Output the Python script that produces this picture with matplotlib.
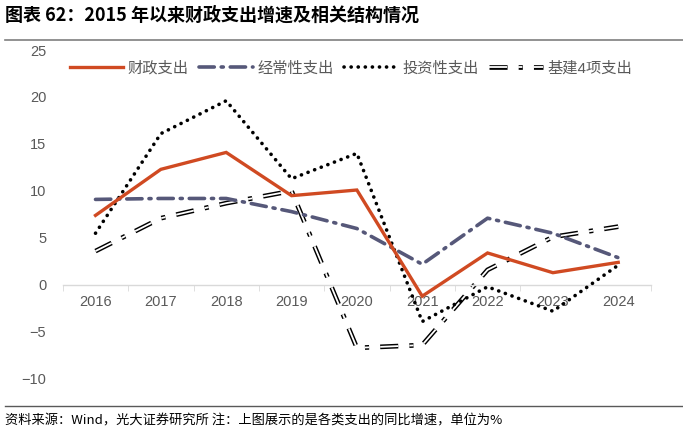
import numpy as np
import matplotlib
matplotlib.use("Agg")
import matplotlib.pyplot as plt
from matplotlib.lines import Line2D
from matplotlib.legend_handler import HandlerTuple

plt.rcParams['font.family'] = ['Liberation Sans', 'Noto Sans CJK SC', 'DejaVu Sans']
plt.rcParams['lines.scale_dashes'] = False

# data
years = ["2016", "2017", "2018", "2019", "2020", "2021", "2022", "2023", "2024"]
total_spend = [7.4, 12.3, 14.1, 9.5, 10.1, -1.2, 3.4, 1.3, 2.4]
current_spend = [9.1, 9.2, 9.2, 7.8, 6.0, 2.2, 7.1, 5.5, 2.9]
invest_spend = [5.5, 16.1, 19.6, 11.3, 14.0, -3.9, -0.2, -2.8, 2.1]
infra_spend = [3.6, 7.1, 8.7, 10.0, -6.7, -6.4, 1.6, 5.1, 6.2]

labels = ["财政支出", "经常性支出", "投资性支出", "基建4项支出"]

fig = plt.figure(figsize=(6.83, 4.33), dpi=100)
ax = fig.add_axes([0.092, 0.125, 0.861, 0.7595])

x = np.arange(len(years))

red = "#D04A22"
slate = "#565879"
dot_pat = (0.1, 5.0)
dash_dot = (11, 5, 1.5, 5)
dbl_pat = (13, 8, 3, 8)

ax.plot(x, total_spend, color=red, lw=2.4, solid_joinstyle="miter", zorder=5)
ax.plot(x, current_spend, color=slate, lw=2.6, dashes=dash_dot,
        dash_capstyle="round", zorder=4)
ax.plot(x, invest_spend, color="black", lw=2.6, dashes=dot_pat,
        dash_capstyle="round", zorder=3)
ax.plot(x, infra_spend, color="black", lw=3.4, dashes=dbl_pat,
        dash_capstyle="butt", zorder=2)
ax.plot(x, infra_spend, color="white", lw=1.3, dashes=dbl_pat,
        dash_capstyle="butt", zorder=2.1)

ax.set_xlim(-0.5, len(years) - 0.5)
ax.set_ylim(-10, 25)
ax.set_yticks(np.arange(-10, 26, 5))
ax.set_xticks(x)
ax.set_xticklabels(years)
ax.set_xticks(np.arange(-0.5, len(years), 1), minor=True)

for s in ["top", "right", "left"]:
    ax.spines[s].set_visible(False)
ax.spines["bottom"].set_position(("data", 0))
ax.spines["bottom"].set_color("#d9d9d9")
ax.spines["bottom"].set_linewidth(1.0)

ax.tick_params(axis="x", which="major", length=0, pad=7, labelsize=10.5, labelcolor="#595959")
ax.tick_params(axis="x", which="minor", length=4, color="#d9d9d9", direction="out")
ax.tick_params(axis="y", length=0, pad=12, labelsize=10.5, labelcolor="#595959")

handles = [
    Line2D([], [], color=red, lw=2.4),
    Line2D([], [], color=slate, lw=2.6, dashes=dash_dot, dash_capstyle="round"),
    Line2D([], [], color="black", lw=2.6, dashes=dot_pat, dash_capstyle="round"),
    (Line2D([], [], color="black", lw=3.4, dashes=dbl_pat, dash_capstyle="butt"),
     Line2D([], [], color="white", lw=1.3, dashes=dbl_pat, dash_capstyle="butt")),
]
leg = ax.legend(handles, labels, ncol=4, frameon=False, loc="center",
                bbox_to_anchor=(0.49, 0.945), handlelength=3.5, handletextpad=0.3,
                columnspacing=0.7, fontsize=11,
                handler_map={tuple: HandlerTuple(ndivide=1)})
for t in leg.get_texts():
    t.set_color("#595959")

fig.text(0.008, 0.965, "图表 62：2015 年以来财政支出增速及相关结构情况",
         fontsize=13, fontweight="bold", va="center", ha="left",
         family=["Noto Sans CJK SC", "DejaVu Sans"])
fig.add_artist(Line2D([0.008, 1.0], [0.908, 0.908], color="#7f7f7f", lw=1.2,
                      transform=fig.transFigure))
fig.add_artist(Line2D([0.008, 1.0], [0.062, 0.062], color="#595959", lw=1.0,
                      transform=fig.transFigure))
fig.text(0.008, 0.028, "资料来源：Wind，光大证券研究所 注：上图展示的是各类支出的同比增速，单位为%",
         fontsize=9.5, va="center", ha="left",
         family=["Noto Sans CJK SC", "DejaVu Sans"])

fig.savefig("out.png", dpi=100)
